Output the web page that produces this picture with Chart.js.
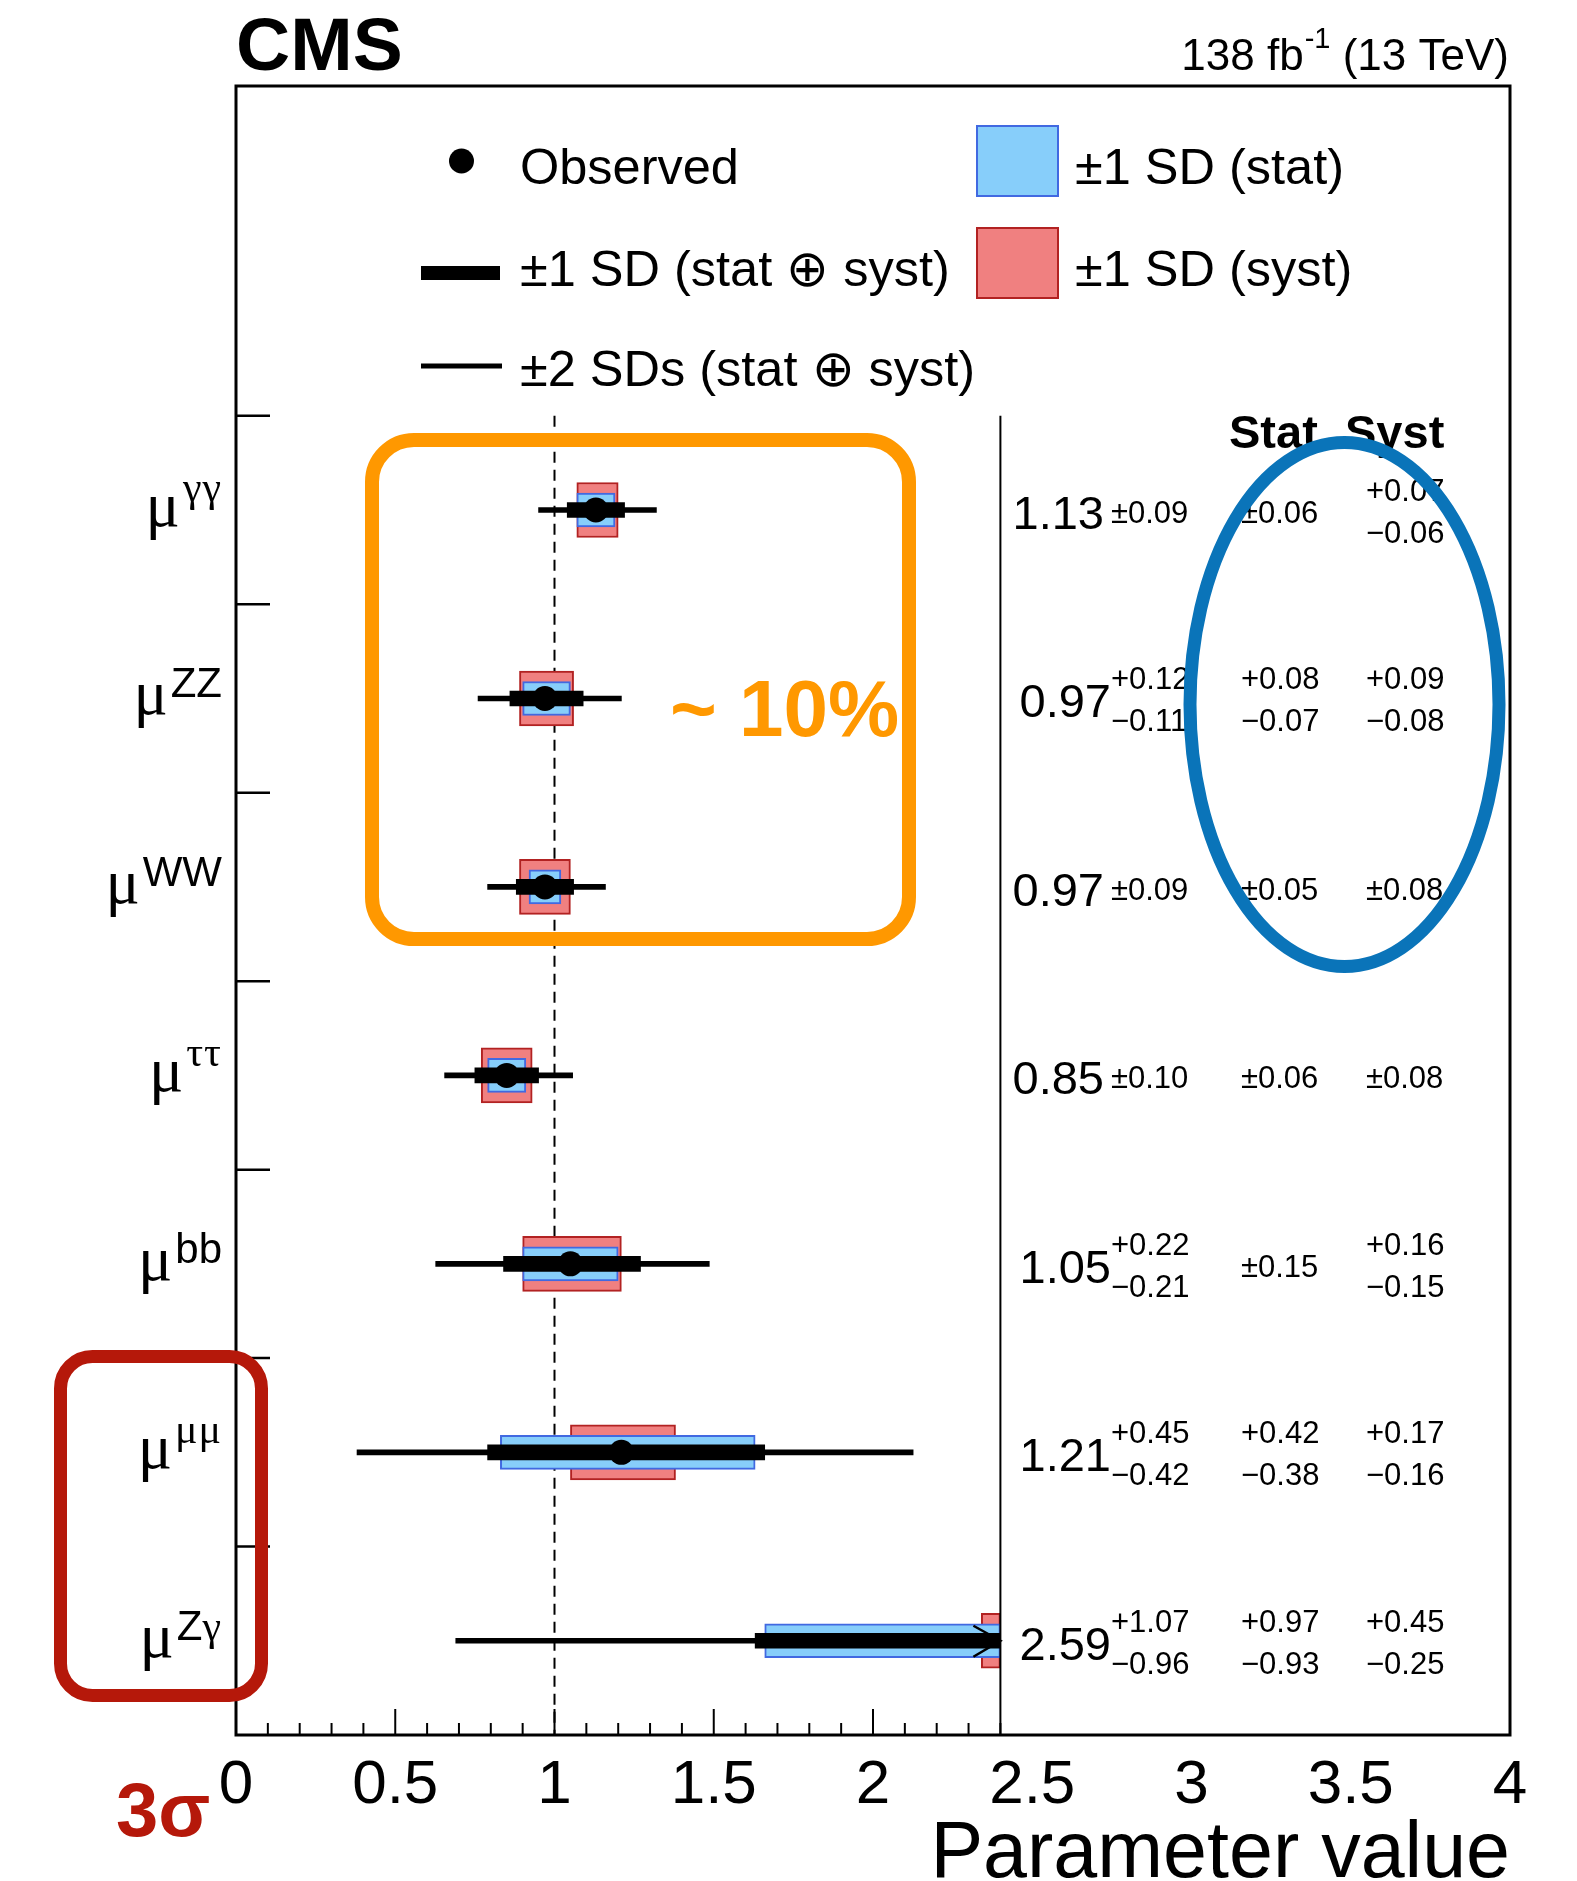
<!DOCTYPE html>
<html>
<head>
<meta charset="utf-8">
<title>Signal strength per decay mode</title>
<script src="https://cdn.jsdelivr.net/npm/chart.js@4.4.1/dist/chart.umd.min.js"></script>
<style>
  html, body { margin: 0; padding: 0; background: #fff; }
  #wrap { position: relative; width: 1577px; height: 1881px; }
</style>
</head>
<body>
<div id="wrap"><canvas id="muChart"></canvas></div>
<script>
// Decay channels, top to bottom
const channels = ['γγ', 'ZZ', 'WW', 'ττ', 'bb', 'μμ', 'Zγ'];
const bestFit  = [1.13, 0.97, 0.97, 0.85, 1.05, 1.21, 2.59];
const totUp    = [0.09, 0.12, 0.09, 0.10, 0.22, 0.45, 1.07];
const totDown  = [0.09, 0.11, 0.09, 0.10, 0.21, 0.42, 0.96];
const statUp   = [0.06, 0.08, 0.05, 0.06, 0.15, 0.42, 0.97];
const statDown = [0.06, 0.07, 0.05, 0.06, 0.15, 0.38, 0.93];
const systUp   = [0.07, 0.09, 0.08, 0.08, 0.16, 0.17, 0.45];
const systDown = [0.06, 0.08, 0.08, 0.08, 0.15, 0.16, 0.25];
// edges of the +-2 SD intervals
const twoSdLow  = [0.95, 0.76, 0.79, 0.655, 0.627, 0.38, 0.69];
const twoSdHigh = [1.32, 1.21, 1.16, 1.057, 1.486, 2.126, 4.8];

const xTickLabels = ['0', '0.5', '1', '1.5', '2', '2.5', '3', '3.5', '4'];

const X_CUT = 2.4;   // left pad ends here, numbers column to the right
const SM = 1;        // standard model expectation
const SANS = '"Liberation Sans", Arial, Helvetica, sans-serif';
const SERIF = '"Liberation Serif", "Times New Roman", serif';
const MINUS = '\u2212';

const clip = v => Math.min(v, X_CUT);
function band(lo, hi) {
    return channels.map((c, i) => ({ x: [clip(lo(i)), clip(hi(i))], y: i }));
}

const systBand = band(i => bestFit[i] - systDown[i], i => bestFit[i] + systUp[i]);
const statBand = band(i => bestFit[i] - statDown[i], i => bestFit[i] + statUp[i]);
const oneSd = band(i => bestFit[i] - totDown[i], i => bestFit[i] + totUp[i]);
const twoSd = band(i => twoSdLow[i], i => twoSdHigh[i]);
const points = channels.map((c, i) => ({ x: bestFit[i], y: i })).filter(p => p.x <= X_CUT);

function text(ctx, str, x, y, size, opts = {}) {
    ctx.font = `${opts.bold ? 'bold ' : ''}${size}px ${opts.family || SANS}`;
    ctx.fillStyle = opts.color || '#000';
    ctx.textAlign = opts.align || 'left';
    ctx.textBaseline = 'alphabetic';
    ctx.fillText(str, x, y);
    return ctx.measureText(str).width;
}

function roundRect(ctx, x0, y0, x1, y1, r) {
    ctx.beginPath();
    ctx.moveTo(x0 + r, y0);
    ctx.arcTo(x1, y0, x1, y1, r);
    ctx.arcTo(x1, y1, x0, y1, r);
    ctx.arcTo(x0, y1, x0, y0, r);
    ctx.arcTo(x0, y0, x1, y0, r);
    ctx.closePath();
}

function fmtErr(up, down) {
    if (up === down) return ['\u00b1' + up.toFixed(2)];
    return ['+' + up.toFixed(2), MINUS + down.toFixed(2)];
}

// dashed SM line goes behind the bands
const smLine = {
    id: 'smLine',
    beforeDatasetsDraw(chart) {
        const { ctx, scales: { x, y } } = chart;
        ctx.save();
        ctx.strokeStyle = '#000';
        ctx.lineWidth = 2;
        ctx.setLineDash([11, 7]);
        ctx.beginPath();
        ctx.moveTo(x.getPixelForValue(SM), y.getPixelForValue(-0.5));
        ctx.lineTo(x.getPixelForValue(SM), chart.chartArea.bottom);
        ctx.stroke();
        ctx.restore();
    }
};

const decorations = {
    id: 'decorations',
    afterDatasetsDraw(chart) {
        const { ctx, chartArea: a, scales: { x, y } } = chart;
        ctx.save();

        // arrow for the off-scale Zγ result
        channels.forEach((c, i) => {
            if (bestFit[i] <= X_CUT) return;
            const xe = x.getPixelForValue(X_CUT), yc = y.getPixelForValue(i);
            ctx.strokeStyle = '#000';
            ctx.lineWidth = 2.5;
            ctx.beginPath();
            ctx.moveTo(xe - 27, yc - 15);
            ctx.lineTo(xe, yc);
            ctx.lineTo(xe - 27, yc + 16);
            ctx.stroke();
        });

        // frame
        ctx.strokeStyle = '#000';
        ctx.lineWidth = 3;
        ctx.strokeRect(a.left, a.top, a.right - a.left, a.bottom - a.top);

        // separator between plot and numbers
        ctx.lineWidth = 2;
        const xs = x.getPixelForValue(X_CUT);
        ctx.beginPath();
        ctx.moveTo(xs, y.getPixelForValue(-0.5));
        ctx.lineTo(xs, a.bottom);
        ctx.stroke();

        // x ticks, only under the plot part
        ctx.lineWidth = 2;
        for (let k = 0; k <= Math.round(X_CUT * 10); k++) {
            const px = x.getPixelForValue(k / 10);
            const len = k % 5 === 0 ? 26 : 12;
            ctx.beginPath();
            ctx.moveTo(px, a.bottom);
            ctx.lineTo(px, a.bottom - len);
            ctx.stroke();
        }
        xTickLabels.forEach(t => {
            text(ctx, t, x.getPixelForValue(parseFloat(t)), 1803, 62, { align: 'center' });
        });
        text(ctx, 'Parameter value', a.right, 1877, 79, { align: 'right' });

        // y ticks at the row edges
        ctx.lineWidth = 2.5;
        for (let i = 0; i < channels.length; i++) {
            const py = y.getPixelForValue(i - 0.5);
            ctx.beginPath();
            ctx.moveTo(a.left, py);
            ctx.lineTo(a.left + 34, py);
            ctx.stroke();
        }

        // y labels: mu with the channel as superscript
        channels.forEach((c, i) => {
            const yc = y.getPixelForValue(i);
            const base = yc + 16;
            const parts = [...c].map(ch => ({ ch, greek: /[\u0370-\u03ff]/.test(ch) }));
            let w = 0;
            parts.forEach(p => {
                ctx.font = `42px ${p.greek ? SERIF : SANS}`;
                w += ctx.measureText(p.ch).width + (p.greek ? 1 : 0);
            });
            let xr = 222 - w;
            const supBase = parts.some(p => !p.greek) ? base - 17 : base - 25;
            parts.forEach(p => {
                xr += text(ctx, p.ch, xr, supBase, 42, { family: p.greek ? SERIF : SANS }) + (p.greek ? 1 : 0);
            });
            text(ctx, 'μ', 222 - w - 3, base, 64, { family: SERIF, align: 'right' });
        });

        // numbers column
        text(ctx, 'Stat', 1229, 448, 47, { bold: true });
        text(ctx, 'Syst', 1345, 448, 47, { bold: true });
        channels.forEach((c, i) => {
            const yc = y.getPixelForValue(i);
            const symm = totUp[i] === totDown[i];
            text(ctx, bestFit[i].toFixed(2), symm ? 1104 : 1111, yc + 19, 47, { align: 'right' });
            [[totUp, totDown, 1111], [statUp, statDown, 1241], [systUp, systDown, 1366]].forEach(([u, d, xl]) => {
                const s = fmtErr(u[i], d[i]);
                if (s.length === 1) {
                    text(ctx, s[0], xl, yc + 13, 31);
                } else {
                    text(ctx, s[0], xl, yc - 9, 31);
                    text(ctx, s[1], xl, yc + 33, 31);
                }
            });
        });

        // legend
        ctx.fillStyle = '#000';
        ctx.beginPath();
        ctx.arc(461.5, 161, 12.5, 0, Math.PI * 2);
        ctx.fill();
        ctx.fillRect(421, 266, 79, 14);
        ctx.fillRect(421, 363.5, 81, 5);
        text(ctx, 'Observed', 520, 184, 50.5);
        text(ctx, '\u00b11 SD (stat \u2295 syst)', 520, 286, 50.5);
        text(ctx, '\u00b12 SDs (stat \u2295 syst)', 520, 386, 50.5);

        ctx.lineWidth = 2;
        ctx.fillStyle = '#87cefa';
        ctx.strokeStyle = '#4169e1';
        ctx.fillRect(976, 125, 83, 72);
        ctx.strokeRect(977, 126, 81, 70);
        ctx.fillStyle = '#f08080';
        ctx.strokeStyle = '#b22222';
        ctx.fillRect(976, 227, 83, 72);
        ctx.strokeRect(977, 228, 81, 70);
        text(ctx, '\u00b11 SD (stat)', 1075, 184, 50.5);
        text(ctx, '\u00b11 SD (syst)', 1075, 286, 50.5);

        // header
        text(ctx, 'CMS', 236, 70, 75, { bold: true });
        const w1 = (() => { ctx.font = `44px ${SANS}`; return ctx.measureText(' (13 TeV)').width; })();
        const w2 = (() => { ctx.font = `29px ${SANS}`; return ctx.measureText('-1').width; })();
        text(ctx, ' (13 TeV)', 1509, 70, 44, { align: 'right' });
        text(ctx, '-1', 1509 - w1, 48, 29, { align: 'right' });
        text(ctx, '138 fb', 1509 - w1 - w2 - 1, 70, 44, { align: 'right' });

        // highlights
        ctx.lineWidth = 14;
        ctx.strokeStyle = '#ff9800';
        roundRect(ctx, 372, 440, 909, 939, 42);
        ctx.stroke();
        text(ctx, '~ 10%', 670, 736, 80, { bold: true, color: '#ff9800' });

        ctx.lineWidth = 13;
        ctx.strokeStyle = '#0a74b9';
        ctx.beginPath();
        ctx.ellipse(1344.5, 704.5, 154.5, 262, 0, 0, Math.PI * 2);
        ctx.stroke();

        ctx.strokeStyle = '#b5180a';
        roundRect(ctx, 60.5, 1356.5, 261.5, 1695.5, 32);
        ctx.stroke();
        text(ctx, '3σ', 116, 1836, 76, { bold: true, color: '#b5180a' });

        ctx.restore();
    }
};

function barSet(data, fill, edge, thickness, order) {
    return {
        type: 'bar',
        indexAxis: 'y',
        grouped: false,
        data: data,
        backgroundColor: fill,
        borderColor: edge,
        borderWidth: edge ? 2 : 0,
        borderSkipped: false,
        barThickness: thickness,
        order: order
    };
}

const ctx = document.getElementById('muChart').getContext('2d');
new Chart(ctx, {
    type: 'bar',
    data: {
        datasets: [
            barSet(systBand, '#f08080', '#b22222', 55, 5),
            barSet(statBand, '#87cefa', '#4169e1', 34, 4),
            barSet(twoSd, '#000', null, 5, 3),
            barSet(oneSd, '#000', null, 15, 2),
            {
                type: 'scatter',
                data: points,
                pointRadius: 12.5,
                pointBackgroundColor: '#000',
                pointBorderWidth: 0,
                order: 1
            }
        ]
    },
    options: {
        indexAxis: 'y',
        responsive: true,
        maintainAspectRatio: false,
        animation: false,
        events: [],
        layout: { padding: { left: 236, right: 67, top: 86, bottom: 146 } },
        scales: {
            x: { type: 'linear', min: 0, max: 4, offset: false, grace: 0, beginAtZero: false, display: false },
            y: { type: 'linear', min: -2.25, max: 6.5, reverse: true, offset: false, grace: 0, beginAtZero: false, display: false }
        },
        plugins: {
            legend: { display: false },
            tooltip: { enabled: false }
        }
    },
    plugins: [smLine, decorations]
});
</script>
</body>
</html>
